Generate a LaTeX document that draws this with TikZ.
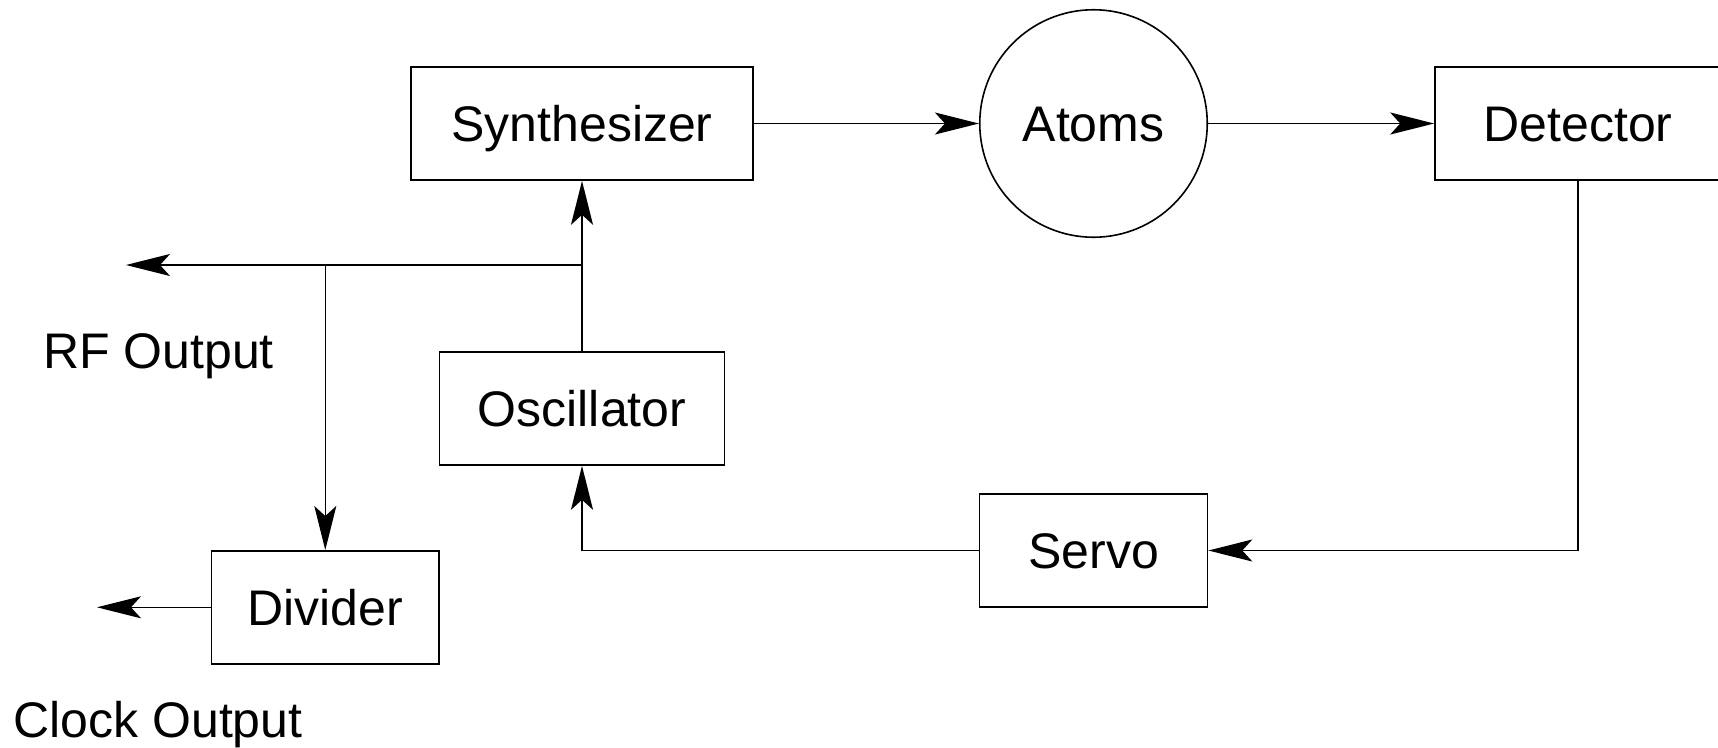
\documentclass[tikz,border=0pt]{standalone}
\usepackage{fontspec}
\setmainfont{Liberation Sans}
\usetikzlibrary{arrows.meta}
\begin{document}
\begin{tikzpicture}[x=1pt,y=-1pt,
  txt/.style={inner sep=0pt, font=\fontsize{50}{60}\selectfont, text height=35.8pt, text depth=0pt},
  box/.style={txt, draw, line width=1.6pt, rectangle, minimum height=113pt},
  conn/.style={line width=1.6pt, -{Stealth[length=44pt,width=22pt,inset=10pt]}}]
\useasboundingbox (0,0) rectangle (1718,747);
\node[box, minimum width=342pt] (syn) at (582,123.5) {Synthesizer};
\node[txt, draw, line width=1.6pt, circle, minimum size=227.5pt] (atoms) at (1093.5,123.5) {Atoms};
\node[box, minimum width=286pt] (det) at (1578,123.5) {Detector};
\node[box, minimum width=285pt] (osc) at (582,408.5) {Oscillator};
\node[box, minimum width=228pt] (servo) at (1093.5,550.5) {Servo};
\node[box, minimum width=227.5pt] (div) at (325.3,607.3) {Divider};
\node[txt] (rf) at (158.5,351) {RF Output};
\node[txt] (clk) at (158,720) {Clock Output};
\coordinate (rfend) at (126,265);
\coordinate (clkend) at (97,607.3);
\coordinate (jn) at (div.north |- rfend);
\draw[conn] (syn.east) -- (atoms.west);
\draw[conn] (atoms.east) -- (det.west);
\draw[conn] (det.south) |- (servo.east);
\draw[conn] (servo.west) -| (osc.south);
\draw[conn] (osc.north) -- (syn.south);
\draw[conn] (osc.north |- rfend) -- (rfend);
\draw[conn] (jn) -- (div.north);
\draw[conn] (div.west) -- (clkend);
\end{tikzpicture}
\end{document}
